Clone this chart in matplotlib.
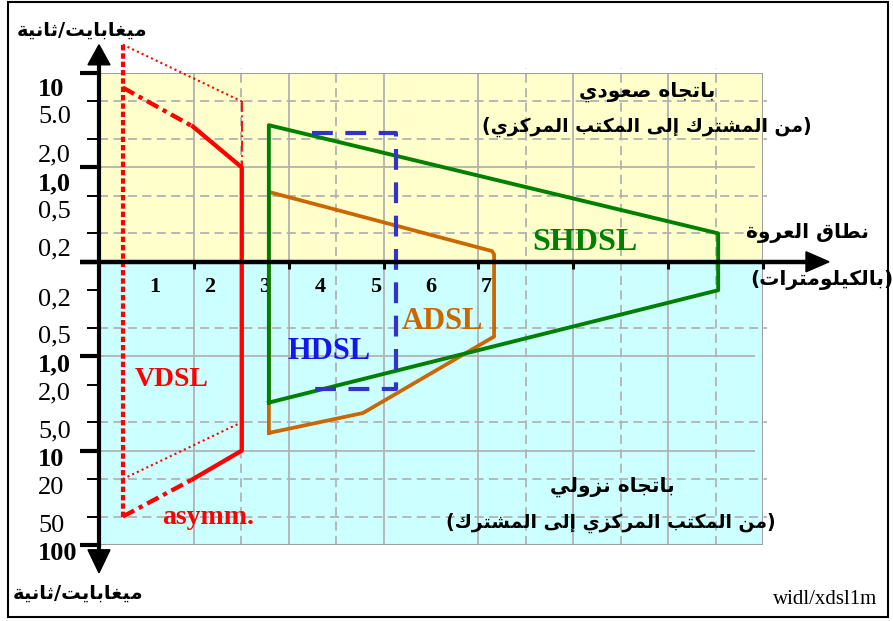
import numpy as np
import matplotlib
matplotlib.use('Agg')
import matplotlib.pyplot as plt
from matplotlib.patches import Polygon, Rectangle

# --- data (km, Mbit/s) ---
vdsl_km = [0.43, 1.70, 2.58]
vdsl_up_asym = [7.0, 2.7, 1.0]
vdsl_down_asym = [50, 20, 10]
vdsl_sym_km = [0.43, 2.58]
vdsl_up_sym = [20, 5]
vdsl_down_sym = [20, 5]

shdsl_km = [3.07, 11.19]
shdsl_up = [2.8, 0.2]
shdsl_down = [3.1, 0.2]

adsl_up_km = [3.07, 7.10, 7.14]
adsl_up = [0.55, 0.13, 0.12]
adsl_down_km = [3.07, 4.77, 7.14]
adsl_down = [6.5, 4.0, 0.62]

hdsl_km = [3.85, 5.37]
hdsl_up = 2.3
hdsl_down = 2.2

km_labels = [1, 2, 3, 4, 5, 6, 7]
up_ticks = [10, 5, 2, 1, 0.5, 0.2]
up_labels = ['10', '5.0', '2,0', '1,0', '0,5', '0,2']
down_ticks = [0.2, 0.5, 1, 2, 5, 10, 20, 50, 100]
down_labels = ['0,2', '0,5', '1,0', '2,0', '5,0', '10', '20', '50', '100']
bold_ticks = [1, 10, 100]

# --- layout in pixels ---
W, H = 893, 621
L, R, T, B = 99, 763, 73, 545
Y0PX = 262
XMAX = 12.0
KM_PX = (R - L) / XMAX
UNIT_PX = (B - T) / 5.0
STEP = XMAX / 7


def up(r):
    return np.log10(np.asarray(r, float)) + 1


def down(r):
    return -(np.log10(np.asarray(r, float)) + 1)


def px(x, y):
    return ((x - L) / KM_PX, (Y0PX - y) / UNIT_PX)


# simple arabic shaping: presentation forms + reversal
FORMS = {
    'ا': (0xFE8D, 0xFE8E), 'إ': (0xFE87, 0xFE88),
    'ب': (0xFE8F, 0xFE90, 0xFE91, 0xFE92), 'ة': (0xFE93, 0xFE94),
    'ت': (0xFE95, 0xFE96, 0xFE97, 0xFE98), 'ث': (0xFE99, 0xFE9A, 0xFE9B, 0xFE9C),
    'ج': (0xFE9D, 0xFE9E, 0xFE9F, 0xFEA0), 'د': (0xFEA9, 0xFEAA),
    'ر': (0xFEAD, 0xFEAE), 'ز': (0xFEAF, 0xFEB0),
    'ش': (0xFEB5, 0xFEB6, 0xFEB7, 0xFEB8), 'ص': (0xFEB9, 0xFEBA, 0xFEBB, 0xFEBC),
    'ط': (0xFEC1, 0xFEC2, 0xFEC3, 0xFEC4), 'ع': (0xFEC9, 0xFECA, 0xFECB, 0xFECC),
    'غ': (0xFECD, 0xFECE, 0xFECF, 0xFED0), 'ق': (0xFED5, 0xFED6, 0xFED7, 0xFED8),
    'ك': (0xFED9, 0xFEDA, 0xFEDB, 0xFEDC), 'ل': (0xFEDD, 0xFEDE, 0xFEDF, 0xFEE0),
    'م': (0xFEE1, 0xFEE2, 0xFEE3, 0xFEE4), 'ن': (0xFEE5, 0xFEE6, 0xFEE7, 0xFEE8),
    'ه': (0xFEE9, 0xFEEA, 0xFEEB, 0xFEEC), 'و': (0xFEED, 0xFEEE),
    'ى': (0xFEEF, 0xFEF0), 'ي': (0xFEF1, 0xFEF2, 0xFEF3, 0xFEF4),
}
MIRROR = {'(': ')', ')': '('}


def ar(s):
    out = []
    for i, c in enumerate(s):
        if c not in FORMS:
            out.append(MIRROR.get(c, c))
            continue
        prev = s[i - 1] if i > 0 else None
        nxt = s[i + 1] if i + 1 < len(s) else None
        jp = prev in FORMS and len(FORMS[prev]) == 4
        jn = len(FORMS[c]) == 4 and nxt in FORMS
        f = FORMS[c]
        if jp and jn:
            out.append(chr(f[3]))
        elif jp:
            out.append(chr(f[1]))
        elif jn:
            out.append(chr(f[2]))
        else:
            out.append(chr(f[0]))
    return ''.join(reversed(out))


SERIF = 'Liberation Serif'
ARAB = 'DejaVu Sans'

fig = plt.figure(figsize=(W / 100, H / 100), dpi=100)
ax = fig.add_axes([L / W, 1 - B / H, (R - L) / W, (B - T) / H])
ax.set_xlim(0, XMAX)
ax.set_ylim(-3, 2)
ax.axis('off')

ax.axhspan(0, 2, color='#FFFFCC', zorder=0)
ax.axhspan(-3, 0, color='#CCFFFF', zorder=0)

# grid
grey = '#B2B2B2'
ax.vlines([STEP * k for k in range(1, 7)], -3, 2, color=grey, lw=1.3, zorder=1)
ax.vlines([STEP * k for k in (1.5, 2.5, 4.5, 5.5, 6.5)], -3, 2.05, color=grey, lw=1.3,
          linestyles=(0, (5, 3)), zorder=1, clip_on=False)
ax.hlines([up(1), down(1), down(10)], 0, 11.85, color=grey, lw=1.3, zorder=1)
ax.hlines(list(up([5, 2, 0.5, 0.2])) + list(down([0.5, 5, 20, 50])), 0, 12.07,
          color=grey, lw=1.3, linestyles=(0, (5, 3)), zorder=1, clip_on=False)
ax.plot([0, XMAX, XMAX, 0], [2, 2, -3, -3], color='#A0A0A0', lw=1.5, zorder=1)

# ADSL
ax.plot([adsl_down_km[0]] + adsl_up_km + adsl_down_km[::-1],
        [down(adsl_down[0])] + list(up(adsl_up)) + list(down(adsl_down[::-1])),
        color='#CC6600', lw=2.7, zorder=3)

# SHDSL
ax.plot([shdsl_km[0], shdsl_km[0], shdsl_km[1], shdsl_km[1], shdsl_km[0]],
        [down(shdsl_down[0]), up(shdsl_up[0]), up(shdsl_up[1]), down(shdsl_down[1]), down(shdsl_down[0])],
        color='#008000', lw=2.8, zorder=4)

# HDSL
ax.plot([hdsl_km[0], hdsl_km[1], hdsl_km[1], hdsl_km[0]],
        [up(hdsl_up), up(hdsl_up), down(hdsl_down), down(hdsl_down)],
        color='#3333CC', lw=3, linestyle=(0, (5, 3)), zorder=5)

# VDSL
red = '#FF0000'
ax.plot([vdsl_km[0]] * 2, [up(vdsl_up_sym[0]), down(vdsl_down_asym[0])], color=red, lw=3,
        linestyle=(0, (1.3, 0.7)), zorder=6, clip_on=False)
ax.plot(vdsl_sym_km, up(vdsl_up_sym), color=red, lw=1.5, linestyle=(0, (1, 1.5)), zorder=6, clip_on=False)
ax.plot(vdsl_sym_km, down(vdsl_down_sym), color=red, lw=1.5, linestyle=(0, (1, 1.5)), zorder=6)
ax.plot([vdsl_km[2]] * 2, [up(vdsl_up_sym[1]), up(vdsl_up_asym[2])], color=red, lw=1.3,
        linestyle=(0, (6, 2, 1, 2)), zorder=6)
ax.plot(vdsl_km[:2], up(vdsl_up_asym[:2]), color=red, lw=3.1, linestyle=(0, (3, 1.2, 1, 1.2)), zorder=6)
ax.plot(vdsl_km[:2], down(vdsl_down_asym[:2]), color=red, lw=3.1, linestyle=(0, (3, 1.2, 1, 1.2)), zorder=6)
ax.plot([vdsl_km[1], vdsl_km[2], vdsl_km[2], vdsl_km[1]],
        [up(vdsl_up_asym[1]), up(vdsl_up_asym[2]), down(vdsl_down_asym[2]), down(vdsl_down_asym[1])],
        color=red, lw=3.1, zorder=6)

# axes, arrows and ticks
k = dict(color='black', clip_on=False, zorder=8, solid_capstyle='butt')
ax.plot(*zip(px(L, 64), px(L, 551)), lw=3, **k)
ax.plot(*zip(px(80, Y0PX), px(808, Y0PX)), lw=3.2, **k)
for pts in ([(L, 45), (L - 11, 65), (L + 11, 65)],
            [(L, 573), (L - 11, 550), (L + 11, 550)],
            [(829, Y0PX), (806, Y0PX - 10), (806, Y0PX + 10)]):
    ax.add_patch(Polygon([px(*p) for p in pts], closed=True, color='black', clip_on=False, zorder=8))
for y in [2, 1, 0, -1, -2, -3]:
    ax.plot([px(80, 0)[0], 0], [y, y], lw=3, **k)
for y in list(up([5, 2, 0.5, 0.2])) + list(down([0.2, 0.5, 2, 5, 20, 50])):
    ax.plot([px(87, 0)[0], 0], [y, y], lw=1.4, **k)
for i in range(8):
    ax.plot([STEP * i] * 2, [0, -7 / UNIT_PX], lw=2.2, **k)

# tick labels
lx = px(38, 0)[0]
for v, s in zip(up_ticks, up_labels):
    ax.text(lx, up(v) - 16 / UNIT_PX, s, fontsize=19, family=SERIF, ha='left', va='center',
            fontweight='bold' if v in bold_ticks else 'normal')
for v, s in zip(down_ticks, down_labels):
    ax.text(lx, down(v) - 9 / UNIT_PX, s, fontsize=19, family=SERIF, ha='left', va='center',
            fontweight='bold' if v in bold_ticks else 'normal')
for v in km_labels:
    ax.text(v, px(0, 287)[1], str(v), fontsize=16, family=SERIF, fontweight='bold',
            ha='center', va='center')

# series names
for s, c, (x, y), fs in [('SHDSL', '#008000', (585, 243), 23), ('ADSL', '#CC6600', (442, 322), 22),
                         ('HDSL', '#1515EE', (329, 352), 22), ('VDSL', red, (172, 380), 20),
                         ('asymm.', red, (208, 518), 20)]:
    ax.text(*px(x, y), s, color=c, fontsize=fs, family=SERIF, fontweight='bold',
            ha='center', va='center', zorder=9)

# arabic notes
for s, (x, y), fs in [('باتجاه صعودي', (647, 92), 14.5),
                      ('(من المشترك إلى المكتب المركزي)', (647, 127), 13.5),
                      ('نطاق العروة', (808, 233), 14.5),
                      ('(بالكيلومترات)', (822, 280), 14.5),
                      ('باتجاه نزولي', (612, 487), 14.5),
                      ('(من المكتب المركزي إلى المشترك)', (611, 523), 13.5),
                      ('ميغابايت/ثانية', (82, 30), 14),
                      ('ميغابايت/ثانية', (78, 593), 14)]:
    ax.text(*px(x, y), ar(s), fontsize=fs, family=ARAB, fontweight='bold',
            ha='center', va='center', zorder=9)

ax.text(*px(825, 600), 'widl/xdsl1m', fontsize=15, family=SERIF, ha='center', va='center')

fig.patches.append(Rectangle((8 / W, 4 / H), 880 / W, 615 / H, fill=False, lw=1.5,
                             edgecolor='black', transform=fig.transFigure))

fig.savefig('out.png', dpi=100)
